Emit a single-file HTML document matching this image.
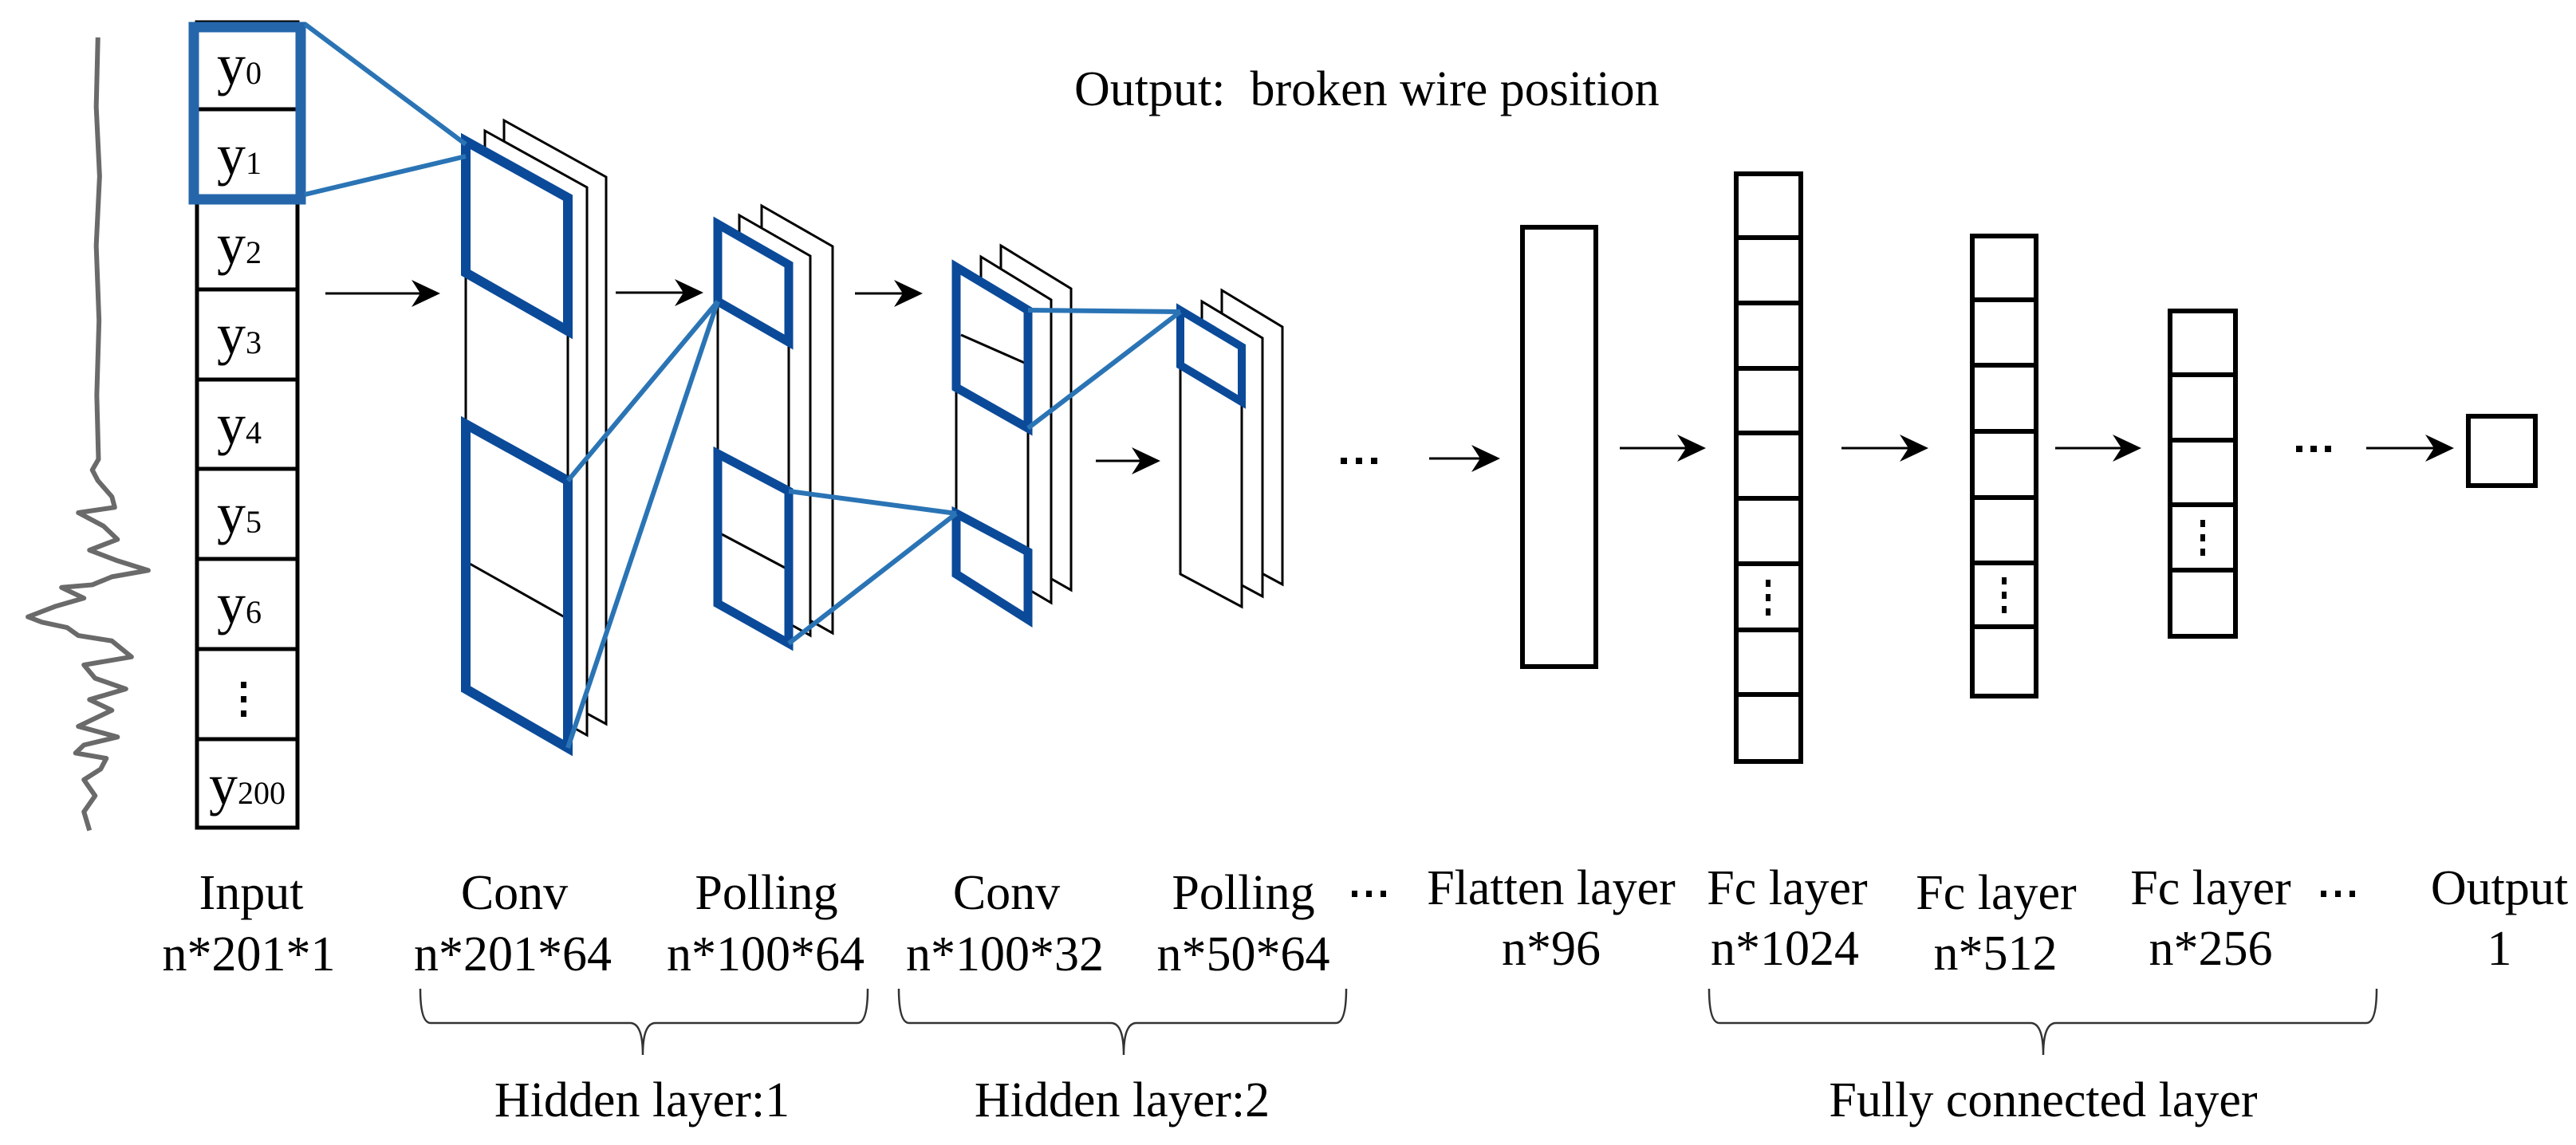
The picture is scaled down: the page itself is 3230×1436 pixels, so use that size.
<!DOCTYPE html>
<html><head><meta charset="utf-8"><style>
html,body{margin:0;padding:0;background:#fff;}
svg{display:block;}
text{font-family:"Liberation Serif",serif;fill:#000;}
</style></head><body>
<svg width="3230" height="1436" viewBox="0 0 3230 1436" xmlns="http://www.w3.org/2000/svg">
<defs>
<g id="ah"><polygon points="0,0 -36,-17 -25,0 -36,17" fill="#000"/></g>
</defs>

<!-- waveform -->
<g transform="scale(0.7015,0.6698)">
<path d="M175,70 L172,200 L178,330 L172,460 L177,600 L173,740 L176,860 L165,880 L175,900 L200,930 L205,950 L140,960 L185,985 L210,1010 L160,1030 L210,1050 L265,1068 L200,1080 L165,1095 L110,1100 L150,1120 L100,1135 L50,1155 L75,1165 L120,1175 L140,1190 L200,1200 L235,1230 L150,1245 L170,1270 L225,1290 L160,1310 L200,1330 L140,1360 L210,1380 L150,1395 L135,1410 L190,1420 L180,1440 L150,1460 L170,1490 L150,1520 L160,1555" fill="none" stroke="#6a6a6a" stroke-width="6" vector-effect="non-scaling-stroke" stroke-linejoin="round"/>
</g>

<!-- input column -->
<g stroke="#000" stroke-width="5" fill="#fff">
<rect x="247" y="28" width="126" height="1010"/>
<line x1="247" y1="137" x2="373" y2="137"/>
<line x1="247" y1="250" x2="373" y2="250"/>
<line x1="247" y1="363" x2="373" y2="363"/>
<line x1="247" y1="476" x2="373" y2="476"/>
<line x1="247" y1="588" x2="373" y2="588"/>
<line x1="247" y1="701" x2="373" y2="701"/>
<line x1="247" y1="814" x2="373" y2="814"/>
<line x1="247" y1="927" x2="373" y2="927"/>
</g>
<rect x="243" y="34" width="134" height="216" fill="none" stroke="#2566ab" stroke-width="13"/>
<g font-size="72" text-anchor="middle">
<text x="300" y="105">y<tspan font-size="40">0</tspan></text>
<text x="300" y="218">y<tspan font-size="40">1</tspan></text>
<text x="300" y="330">y<tspan font-size="40">2</tspan></text>
<text x="300" y="443">y<tspan font-size="40">3</tspan></text>
<text x="300" y="556">y<tspan font-size="40">4</tspan></text>
<text x="300" y="668">y<tspan font-size="40">5</tspan></text>
<text x="300" y="781">y<tspan font-size="40">6</tspan></text>
<text x="310" y="1008">y<tspan font-size="40">200</tspan></text>
</g>
<g fill="#000"><rect x="302" y="855" width="7" height="8"/><rect x="302" y="873" width="7" height="8"/><rect x="302" y="891" width="7" height="8"/></g>

<!-- conv1 sheets -->
<g fill="#fff" stroke="#000" stroke-width="3">
<polygon points="632,151 760,222 760,908 632,838"/>
<polygon points="608,164 736,235 736,922 608,851"/>
<polygon points="584,177 712,248 712,938 584,864"/>
<line x1="589" y1="707" x2="708" y2="774"/>
</g>
<g fill="none" stroke="#0b4a99" stroke-width="12" stroke-linejoin="miter">
<polygon points="584,177 712,248 712,415 584,342"/>
<polygon points="584,532 712,603 712,938 584,864"/>
</g>

<!-- pool1 -->
<g fill="#fff" stroke="#000" stroke-width="3">
<polygon points="955,258 1044,309 1044,794 955,744"/>
<polygon points="927,270 1016,321 1016,797 927,747"/>
<polygon points="900,281 989,332 989,807 900,757"/>
<line x1="905" y1="670" x2="986" y2="713"/>
</g>
<g fill="none" stroke="#0b4a99" stroke-width="11">
<polygon points="900,281 989,332 989,429 900,378"/>
<polygon points="900,569 989,616 989,807 900,757"/>
</g>

<!-- conv2 -->
<g fill="#fff" stroke="#000" stroke-width="3">
<polygon points="1255,308 1343,362 1343,740 1255,690"/>
<polygon points="1230,322 1318,376 1318,756 1230,704"/>
<polygon points="1199,335 1289,389 1289,777 1199,720"/>
<line x1="1205" y1="420" x2="1289" y2="457"/>
</g>
<g fill="none" stroke="#0b4a99" stroke-width="11">
<polygon points="1199,335 1289,389 1289,537 1199,486"/>
<polygon points="1199,644 1289,692 1289,777 1199,720"/>
</g>

<!-- pool2 -->
<g fill="#fff" stroke="#000" stroke-width="3">
<polygon points="1532,364 1608,410 1608,733 1532,692"/>
<polygon points="1507,378 1583,424 1583,748 1507,707"/>
<polygon points="1480,389 1557,435 1557,761 1480,720"/>
</g>
<polygon points="1480,389 1557,435 1557,504 1480,458" fill="none" stroke="#0b4a99" stroke-width="10"/>

<!-- blue connection lines -->
<g stroke="#2a74b5" stroke-width="6" fill="none">
<line x1="382" y1="30" x2="584" y2="181"/>
<line x1="382" y1="244" x2="584" y2="196"/>
<line x1="712" y1="603" x2="900" y2="378"/>
<line x1="712" y1="938" x2="900" y2="378"/>
<line x1="989" y1="616" x2="1199" y2="644"/>
<line x1="989" y1="807" x2="1199" y2="644"/>
<line x1="1289" y1="389" x2="1480" y2="391"/>
<line x1="1289" y1="537" x2="1480" y2="391"/>
</g>

<!-- arrows -->
<g stroke="#000" stroke-width="3">
<line x1="408" y1="368" x2="540" y2="368"/>
<line x1="772" y1="367" x2="870" y2="367"/>
<line x1="1072" y1="368" x2="1145" y2="368"/>
<line x1="1374" y1="578" x2="1443" y2="578"/>
<line x1="1792" y1="575" x2="1869" y2="575"/>
<line x1="2031" y1="562" x2="2127" y2="562"/>
<line x1="2309" y1="562" x2="2406" y2="562"/>
<line x1="2577" y1="562" x2="2673" y2="562"/>
<line x1="2967" y1="562" x2="3065" y2="562"/>
</g>
<use href="#ah" x="552" y="368"/>
<use href="#ah" x="882" y="367"/>
<use href="#ah" x="1157" y="368"/>
<use href="#ah" x="1455" y="578"/>
<use href="#ah" x="1881" y="575"/>
<use href="#ah" x="2139" y="562"/>
<use href="#ah" x="2418" y="562"/>
<use href="#ah" x="2685" y="562"/>
<use href="#ah" x="3077" y="562"/>

<!-- horizontal dots -->
<g fill="#000">
<rect x="1681" y="574" width="8" height="8"/><rect x="1700" y="574" width="8" height="8"/><rect x="1719" y="574" width="8" height="8"/>
<rect x="2879" y="559" width="8" height="8"/><rect x="2897" y="559" width="8" height="8"/><rect x="2915" y="559" width="8" height="8"/>
</g>

<!-- flatten -->
<rect x="1909" y="285" width="92" height="551" fill="#fff" stroke="#000" stroke-width="6"/>

<!-- FC 1024 -->
<g fill="none" stroke="#000" stroke-width="6">
<rect x="2177" y="218" width="81" height="737"/>
<line x1="2177" y1="298" x2="2258" y2="298"/>
<line x1="2177" y1="380" x2="2258" y2="380"/>
<line x1="2177" y1="462" x2="2258" y2="462"/>
<line x1="2177" y1="543" x2="2258" y2="543"/>
<line x1="2177" y1="625" x2="2258" y2="625"/>
<line x1="2177" y1="707" x2="2258" y2="707"/>
<line x1="2177" y1="790" x2="2258" y2="790"/>
<line x1="2177" y1="871" x2="2258" y2="871"/>
<!-- FC 512 -->
<rect x="2473" y="296" width="80" height="577"/>
<line x1="2473" y1="376" x2="2553" y2="376"/>
<line x1="2473" y1="458" x2="2553" y2="458"/>
<line x1="2473" y1="541" x2="2553" y2="541"/>
<line x1="2473" y1="624" x2="2553" y2="624"/>
<line x1="2473" y1="706" x2="2553" y2="706"/>
<line x1="2473" y1="786" x2="2553" y2="786"/>
<!-- FC 256 -->
<rect x="2721" y="390" width="82" height="408"/>
<line x1="2721" y1="470" x2="2803" y2="470"/>
<line x1="2721" y1="552" x2="2803" y2="552"/>
<line x1="2721" y1="633" x2="2803" y2="633"/>
<line x1="2721" y1="715" x2="2803" y2="715"/>
<!-- output -->
<rect x="3095" y="522" width="84" height="87"/>
</g>
<g fill="#000">
<rect x="2214" y="727" width="6" height="9"/><rect x="2214" y="745" width="6" height="9"/><rect x="2214" y="763" width="6" height="9"/>
<rect x="2510" y="724" width="6" height="9"/><rect x="2510" y="742" width="6" height="9"/><rect x="2510" y="760" width="6" height="9"/>
<rect x="2759" y="652" width="6" height="9"/><rect x="2759" y="670" width="6" height="9"/><rect x="2759" y="688" width="6" height="9"/>
</g>

<!-- top text -->
<text x="1347" y="132" font-size="62" xml:space="preserve">Output:  broken wire position</text>

<!-- bottom labels -->
<g font-size="62" text-anchor="middle">
<text x="315" y="1140">Input</text>
<text x="312" y="1217">n*201*1</text>
<text x="645" y="1140">Conv</text>
<text x="643" y="1217">n*201*64</text>
<text x="961" y="1140">Polling</text>
<text x="960" y="1217">n*100*64</text>
<text x="1262" y="1140">Conv</text>
<text x="1260" y="1217">n*100*32</text>
<text x="1559" y="1140">Polling</text>
<text x="1559" y="1217">n*50*64</text>
<text x="1945" y="1134">Flatten layer</text>
<text x="1945" y="1210">n*96</text>
<text x="2241" y="1134">Fc layer</text>
<text x="2238" y="1210">n*1024</text>
<text x="2503" y="1140">Fc layer</text>
<text x="2502" y="1216">n*512</text>
<text x="2772" y="1134">Fc layer</text>
<text x="2772" y="1210">n*256</text>
<text x="3134" y="1134">Output</text>
<text x="3134" y="1210">1</text>
<text x="805" y="1400">Hidden layer:1</text>
<text x="1407" y="1400">Hidden layer:2</text>
<text x="2562" y="1400">Fully connected layer</text>
</g>
<g fill="#000">
<rect x="1695" y="1117" width="7" height="8"/><rect x="1713" y="1117" width="7" height="8"/><rect x="1731" y="1117" width="7" height="8"/>
<rect x="2910" y="1117" width="7" height="8"/><rect x="2928" y="1117" width="7" height="8"/><rect x="2946" y="1117" width="7" height="8"/>
</g>

<!-- braces -->
<g fill="none" stroke="#333" stroke-width="2.5">
<path d="M527,1240 Q527,1283 540,1283 L790,1283 Q806,1283 806,1323 Q806,1283 822,1283 L1075,1283 Q1088,1283 1088,1240"/>
<path d="M1127,1240 Q1127,1283 1140,1283 L1393,1283 Q1409,1283 1409,1323 Q1409,1283 1425,1283 L1675,1283 Q1688,1283 1688,1240"/>
<path d="M2143,1240 Q2143,1283 2156,1283 L2546,1283 Q2562,1283 2562,1323 Q2562,1283 2578,1283 L2967,1283 Q2980,1283 2980,1240"/>
</g>
</svg>
</body></html>
